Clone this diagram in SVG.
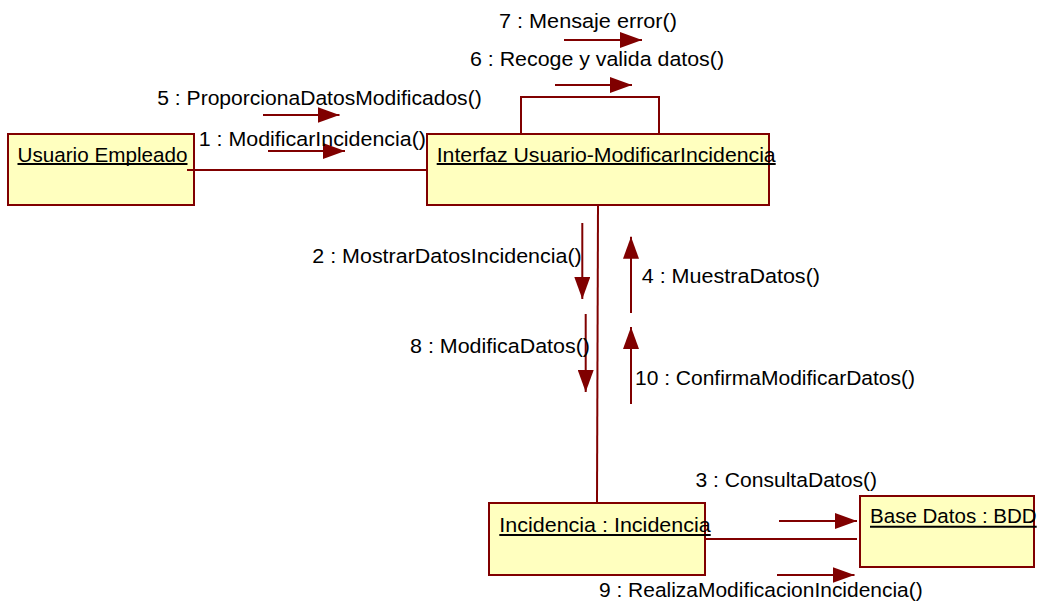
<svg xmlns="http://www.w3.org/2000/svg" width="1042" height="603" viewBox="0 0 1042 603">
<style>
.box{fill:#ffffbf;stroke:#800000;stroke-width:2}
.ln{fill:none;stroke:#800000;stroke-width:2}
.msg{fill:none;stroke:#800000;stroke-width:2;marker-end:url(#ah)}
text{font-family:"Liberation Sans",Arial,sans-serif;font-size:20.5px;fill:#000}
.ul{stroke:#000;stroke-width:2}
</style>
<defs>
<marker id="ah" markerUnits="userSpaceOnUse" markerWidth="22" markerHeight="16" refX="22" refY="8" orient="auto" viewBox="0 0 22 16">
<path d="M0,0 L22,8 L0,16 z" fill="#800000"/>
</marker>
</defs>
<rect width="1042" height="603" fill="#fff"/>
<g id="usuario">
<rect class="box" x="8" y="134" width="186" height="71"/>
<text x="17.5" y="161.7" textLength="170" lengthAdjust="spacingAndGlyphs">Usuario Empleado</text>
<line class="ul" x1="17.5" y1="164" x2="187.5" y2="164"/>
</g>
<g id="interfaz">
<rect class="box" x="427" y="134" width="342" height="71"/>
<text x="436.7" y="161.7" textLength="339" lengthAdjust="spacingAndGlyphs">Interfaz Usuario-ModificarIncidencia</text>
<line class="ul" x1="436.7" y1="164" x2="775.7" y2="164"/>
</g>
<g id="incidencia">
<rect class="box" x="489" y="503" width="216" height="72"/>
<text x="499.3" y="531.7" textLength="211.4" lengthAdjust="spacingAndGlyphs">Incidencia : Incidencia</text>
<line class="ul" x1="499.3" y1="535" x2="710.7" y2="535"/>
</g>
<g id="basedatos">
<rect class="box" x="860" y="496" width="174" height="71"/>
<text x="870" y="523.3" textLength="166.7" lengthAdjust="spacingAndGlyphs">Base Datos : BDD</text>
<line class="ul" x1="870" y1="526.7" x2="1036.7" y2="526.7"/>
</g>
<g id="connectors">
<line class="ln" x1="187" y1="170" x2="427" y2="170"/>
<path class="ln" d="M521,134 V97 H659 V134"/>
<line class="ln" x1="598" y1="205" x2="597" y2="503"/>
<line class="ln" x1="705" y1="539" x2="857" y2="539"/>
</g>
<g id="messages">
<line class="msg" x1="263" y1="115" x2="339.5" y2="115"/>
<text x="157.3" y="105" textLength="324.4" lengthAdjust="spacingAndGlyphs">5 : ProporcionaDatosModificados()</text>
<line class="msg" x1="268" y1="151" x2="345" y2="151"/>
<text x="198.7" y="145.7" textLength="227.3" lengthAdjust="spacingAndGlyphs">1 : ModificarIncidencia()</text>
<line class="msg" x1="555" y1="85" x2="632" y2="85"/>
<text x="470" y="66.3" textLength="254" lengthAdjust="spacingAndGlyphs">6 : Recoge y valida datos()</text>
<line class="msg" x1="564" y1="40" x2="642" y2="40"/>
<text x="499" y="28.3" textLength="178" lengthAdjust="spacingAndGlyphs">7 : Mensaje error()</text>
<line class="msg" x1="582.3" y1="223" x2="582.3" y2="299"/>
<text x="312.3" y="262.7" textLength="269.4" lengthAdjust="spacingAndGlyphs">2 : MostrarDatosIncidencia()</text>
<line class="msg" x1="585.7" y1="314" x2="585.7" y2="392"/>
<text x="410" y="353" textLength="180" lengthAdjust="spacingAndGlyphs">8 : ModificaDatos()</text>
<line class="msg" x1="631" y1="313" x2="631" y2="236.7"/>
<text x="641.7" y="283.3" textLength="178.3" lengthAdjust="spacingAndGlyphs">4 : MuestraDatos()</text>
<line class="msg" x1="631" y1="404" x2="631" y2="327"/>
<text x="635" y="385" textLength="280" lengthAdjust="spacingAndGlyphs">10 : ConfirmaModificarDatos()</text>
<line class="msg" x1="779" y1="521" x2="857" y2="521"/>
<text x="695.5" y="487" textLength="181.5" lengthAdjust="spacingAndGlyphs">3 : ConsultaDatos()</text>
<line class="msg" x1="777" y1="575" x2="854.5" y2="575"/>
<text x="599" y="597" textLength="323.7" lengthAdjust="spacingAndGlyphs">9 : RealizaModificacionIncidencia()</text>
</g>
</svg>
